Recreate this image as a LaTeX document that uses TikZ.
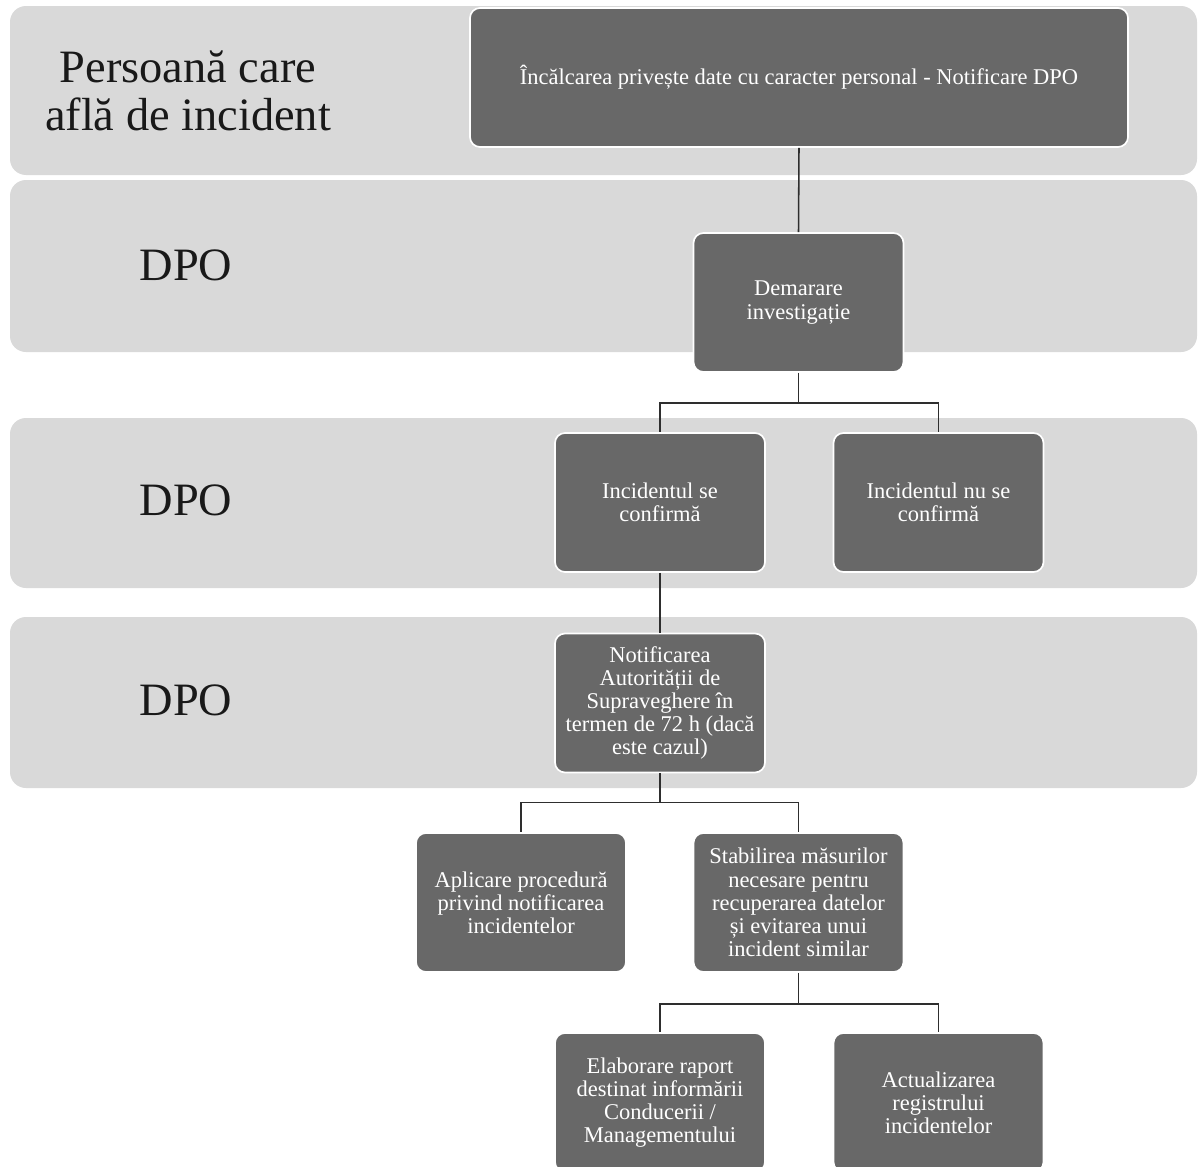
\documentclass[tikz,border=0pt]{standalone}
\usepackage{fontspec}
\setmainfont{Liberation Serif}
\usepackage{tikz}

\definecolor{bandgray}{HTML}{D9D9D9}
\definecolor{boxgray}{HTML}{686868}
\definecolor{linegray}{HTML}{2E2E2E}

\begin{document}
\begin{tikzpicture}[x=0.25mm, y=-0.25mm,
    band/.style={fill=bandgray, rounded corners=4mm},
    role/.style={font=\fontsize{33}{34}\selectfont, align=center, text=black!90},
    stepbox/.style={draw=white, line width=1.2pt, fill=boxgray, rounded corners=2.5mm,
      text=white, align=center, inner sep=2pt, minimum width=52.5mm, minimum height=34.75mm,
      font=\fontsize{16}{16.5}\selectfont},
    link/.style={draw=linegray, line width=1.1pt}]
    \clip (0, 0) rectangle (1199, 1167);
    \fill [white]     (0, 0) rectangle (1199, 1167);
    % swimlanes
    \fill [band]      (10, 6) rectangle (1197, 175);
    \fill [band]      (10, 180) rectangle (1197, 352);
    \fill [band]      (10, 418) rectangle (1197, 588);
    \fill [band]      (10, 617) rectangle (1197, 788);
    \node [role] (who)  at (188, 91)  {Persoană care\\află de incident};
    \node [role] (dpoA) at (186, 265) {DPO};
    \node [role] (dpoB) at (186, 500) {DPO};
    \node [role] (dpoC) at (186, 700) {DPO};
    % steps
    \node [stepbox, minimum width=164.5mm] (breach) at (799, 77.5)
      {Încălcarea privește date cu caracter personal - Notificare DPO};
    \node [stepbox] (invest)    at (798.5, 302.5) {Demarare\\investigație};
    \node [stepbox] (confirm)   at (660, 502.5)   {Incidentul se\\confirmă};
    \node [stepbox] (noconfirm) at (938.5, 502.5) {Incidentul nu se\\confirmă};
    \node [stepbox] (notify)    at (660, 703)
      {Notificarea\\Autorității de\\Supraveghere în\\termen de 72 h (dacă\\este cazul)};
    \node [stepbox] (procedure) at (521, 902.5)
      {Aplicare procedură\\privind notificarea\\incidentelor};
    \node [stepbox] (measures)  at (798.5, 902.5)
      {Stabilirea măsurilor\\necesare pentru\\recuperarea datelor\\și evitarea unui\\incident similar};
    \node [stepbox] (report)    at (660, 1102.5)
      {Elaborare raport\\destinat informării\\Conducerii /\\Managementului};
    \node [stepbox] (register)  at (938.5, 1102.5)
      {Actualizarea\\registrului\\incidentelor};
    % connectors
    \draw [link] (breach.south) -- (invest.north);
    \draw [link] (invest.south) -- ++(0, 30) -| (confirm.north);
    \draw [link] (invest.south) -- ++(0, 30) -| (noconfirm.north);
    \draw [link] (confirm.south) -- (notify.north);
    \draw [link] (notify.south) -- ++(0, 29) -| (procedure.north);
    \draw [link] (notify.south) -- ++(0, 29) -| (measures.north);
    \draw [link] (measures.south) -- ++(0, 31) -| (report.north);
    \draw [link] (measures.south) -- ++(0, 31) -| (register.north);
\end{tikzpicture}
\end{document}
